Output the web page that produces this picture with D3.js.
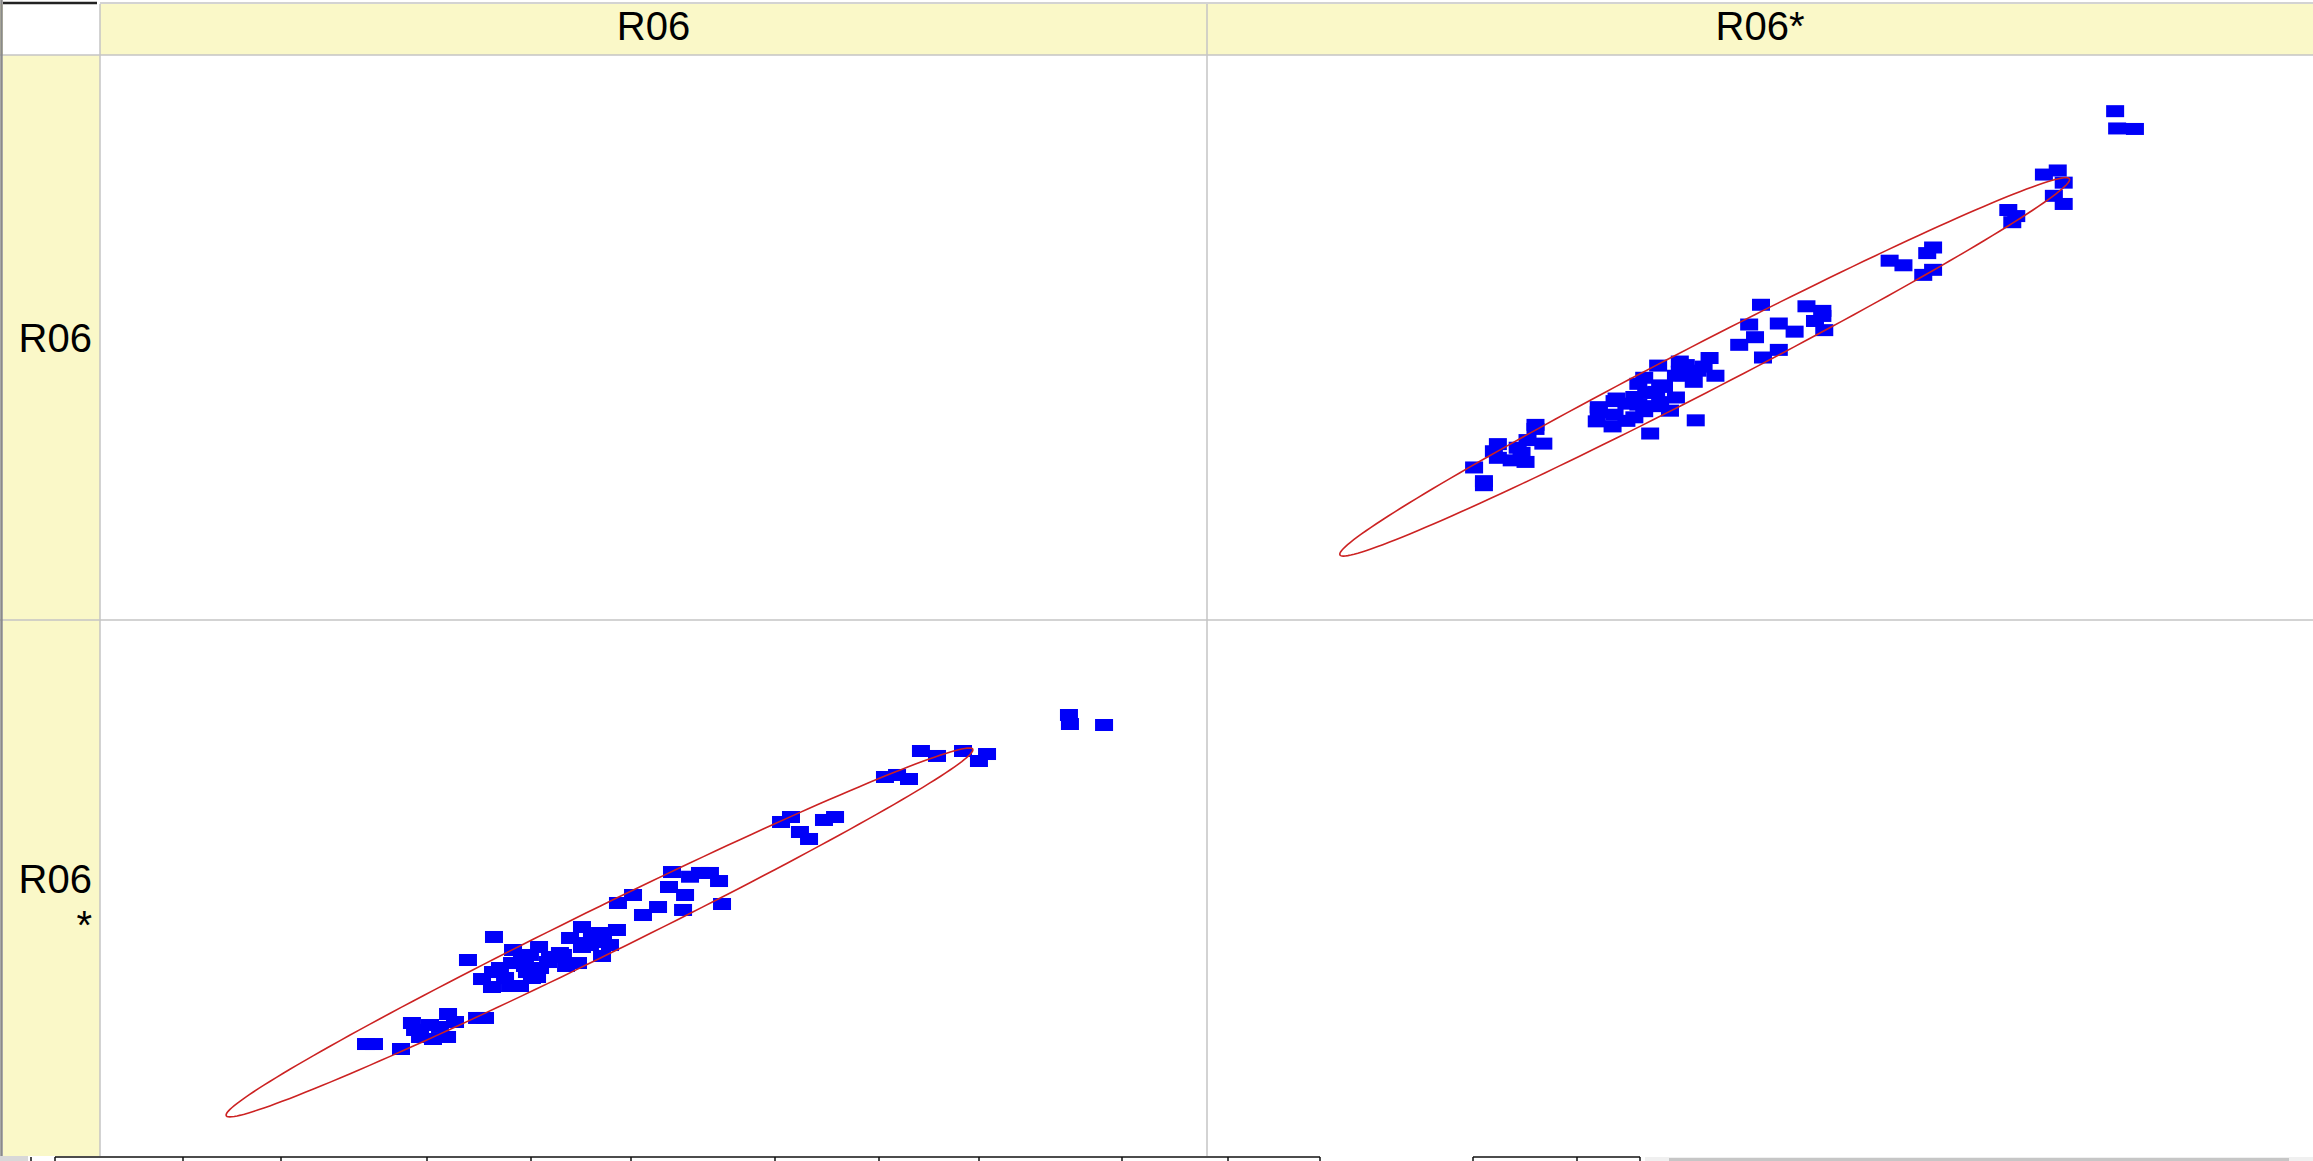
<!DOCTYPE html>
<html><head><meta charset="utf-8">
<script src="https://cdn.jsdelivr.net/npm/d3@7"></script>
<style>html,body{margin:0;padding:0;background:#fff;overflow:hidden}</style>
</head><body>
<svg id="chart" width="2313" height="1161"></svg>
<script>
// ---------------- data ----------------
const variables = ["R06", "R06*"];

const r06 = [24.03,24.75,27.19,31.44,28.18,29.81,28.91,31.35,30.08,34.06,34.78,28.46,30.71,32.07,
  35.59,33.24,37.31,39.66,34.51,35.41,36.13,37.22,37.94,37.04,39.02,39.75,41.55,43.18,43.54,43.54,45.17,46.70,45.35,38.12,38.57,35.50,40.65,39.48,41.82,43.63,45.44,
  36.59,38.39,40.47,42.10,44.26,42.46,38.84,46.07,44.44,
  51.67,54.20,55.10,55.92,51.40,52.85,48.15,46.79,49.05,52.67,50.41,56.19,53.30,
  61.52,62.42,63.23,64.05,65.40,66.40,70.91,72.00,73.08,74.16,75.61,77.96,80.13,79.40,87.53,87.62,90.70];

const r06s = [25.04,25.04,24.15,30.41,28.80,28.44,26.30,26.30,25.94,29.70,29.70,27.55,28.09,28.98,
  44.19,40.07,41.86,42.40,36.67,35.24,38.64,39.53,35.42,35.42,36.85,38.64,41.32,39.53,42.40,45.97,44.90,45.44,40.79,40.43,37.92,37.92,40.61,37.03,40.97,43.11,43.29,
  36.85,39.00,39.71,39.00,42.75,44.01,40.97,42.75,44.36,
  55.81,55.64,55.64,54.20,53.13,51.70,51.70,50.27,48.12,49.02,49.55,50.09,54.97,
  64.76,65.65,62.97,61.72,65.12,65.65,72.81,73.17,72.45,77.46,76.57,77.46,76.92,75.67,83.90,82.29,82.11];

const domainR06 = [0, 100];
const domainR06s = [0, 100];

// confidence ellipse statistics (R06, R06*)
const ellipseMean = [45.12, 45.0];
const ellipseSD = [13.78, 13.48];
const ellipseCorr = 0.99;
const ellipseLevel = 0.95;

// ---------------- layout ----------------
const W = 2313, H = 1161;
const headerTop = 4, headerBottom = 55, labelColRight = 100;
const colEdges = [100, 1207, 2313];
const rowEdges = [55, 620, 1184];
const stripY = 1156;
const yellow = "#faf8c8";
const gridGray = "#c4c4c4";
const font = "'Liberation Sans', Arial, sans-serif";
const fontSize = 40;

const svg = d3.select("#chart");
svg.append("rect").attr("width", W).attr("height", H).attr("fill", "#fff");

const data = r06.map((v, i) => ({ R06: v, "R06*": r06s[i] }));
const domains = { "R06": domainR06, "R06*": domainR06s };

// scales per column (x) and per row (y)
const xScales = [
  d3.scaleLinear().domain(domains[variables[0]]).range([colEdges[0], colEdges[1]]),
  d3.scaleLinear().domain(domains[variables[1]]).range([colEdges[1], colEdges[2]])
];
const yScales = [
  d3.scaleLinear().domain(domains[variables[0]]).range([rowEdges[1], rowEdges[0] + 4]),
  d3.scaleLinear().domain(domains[variables[1]]).range([rowEdges[2], rowEdges[1] + 5])
];

// header & label column backgrounds
svg.append("rect").attr("x", 0).attr("y", headerTop).attr("width", W).attr("height", headerBottom - headerTop).attr("fill", yellow);
svg.append("rect").attr("x", 3).attr("y", headerBottom).attr("width", labelColRight - 3).attr("height", stripY - headerBottom).attr("fill", yellow);
svg.append("rect").attr("x", 3).attr("y", headerTop).attr("width", labelColRight - 3).attr("height", headerBottom - headerTop).attr("fill", "#fff");

// grid lines
const grid = svg.append("g").attr("stroke", gridGray).attr("stroke-width", 1.5).attr("fill", "none");
grid.append("line").attr("x1", labelColRight).attr("x2", W).attr("y1", 3).attr("y2", 3);
grid.append("line").attr("x1", 0).attr("x2", W).attr("y1", headerBottom).attr("y2", headerBottom);
grid.append("line").attr("x1", 0).attr("x2", W).attr("y1", rowEdges[1]).attr("y2", rowEdges[1]);
grid.append("line").attr("x1", labelColRight).attr("x2", labelColRight).attr("y1", headerTop).attr("y2", stripY);
grid.append("line").attr("x1", colEdges[1]).attr("x2", colEdges[1]).attr("y1", headerTop).attr("y2", stripY);
svg.append("line").attr("x1", 3).attr("x2", 97).attr("y1", 3).attr("y2", 3).attr("stroke", "#222").attr("stroke-width", 2.5);
svg.append("line").attr("x1", 1.5).attr("x2", 1.5).attr("y1", 0).attr("y2", H).attr("stroke", "#8a8a8a").attr("stroke-width", 2.5);

// column headers
variables.forEach((v, j) => {
  svg.append("text")
    .attr("x", (colEdges[j] + colEdges[j + 1]) / 2)
    .attr("y", 40)
    .attr("text-anchor", "middle")
    .attr("font-family", font).attr("font-size", fontSize).attr("fill", "#000")
    .text(v);
});

// row labels (wrapped if too wide)
const maxLabelW = 80;
variables.forEach((v, i) => {
  const t = svg.append("text").attr("font-family", font).attr("font-size", fontSize).attr("text-anchor", "end").attr("fill", "#000");
  const lines = [];
  let cur = "";
  const probe = svg.append("text").attr("font-family", font).attr("font-size", fontSize);
  for (const ch of v) {
    probe.text(cur + ch);
    if (cur && probe.node().getComputedTextLength() > maxLabelW) { lines.push(cur); cur = ch; }
    else cur += ch;
  }
  lines.push(cur);
  probe.remove();
  const lh = 46;
  const cy = (rowEdges[i] + rowEdges[i + 1]) / 2;
  const base = cy + 0.36 * fontSize - (lines.length - 1) * lh / 2;
  lines.forEach((ln, k) => {
    t.append("tspan").attr("x", 92).attr("y", base + k * lh).text(ln);
  });
});

// clip for plot region
svg.append("clipPath").attr("id", "plotclip").append("rect")
  .attr("x", labelColRight).attr("y", headerBottom).attr("width", W - labelColRight).attr("height", stripY - headerBottom);
const plot = svg.append("g").attr("clip-path", "url(#plotclip)");

// confidence ellipse points (in data units)
const k = Math.sqrt(-2 * Math.log(1 - ellipseLevel));
const ts = d3.range(0, 361, 2).map(d => d * Math.PI / 180);
const ellipse = ts.map(t => ({
  R06: ellipseMean[0] + k * ellipseSD[0] * Math.cos(t),
  "R06*": ellipseMean[1] + k * ellipseSD[1] * (ellipseCorr * Math.cos(t) + Math.sqrt(1 - ellipseCorr * ellipseCorr) * Math.sin(t))
}));

const mw = 18, mh = 12;
variables.forEach((rowVar, i) => {
  variables.forEach((colVar, j) => {
    if (i === j) return;
    const xs = xScales[j], ys = yScales[i];
    const cell = plot.append("g");
    cell.selectAll("rect.pt").data(data).join("rect")
      .attr("class", "pt")
      .attr("x", d => xs(d[colVar]) - mw / 2)
      .attr("y", d => ys(d[rowVar]) - mh / 2)
      .attr("width", mw).attr("height", mh)
      .attr("fill", "#0000f8");
    const line = d3.line().x(d => xs(d[colVar])).y(d => ys(d[rowVar])).curve(d3.curveLinearClosed);
    cell.append("path").attr("d", line(ellipse))
      .attr("fill", "none").attr("stroke", "#cc2222").attr("stroke-width", 1.6);
  });
});

// bottom sheet-tab strip
svg.append("rect").attr("x", 0).attr("y", stripY).attr("width", W).attr("height", H - stripY).attr("fill", "#fff");
svg.append("rect").attr("x", 1645).attr("y", stripY + 1).attr("width", W - 1645).attr("height", H - stripY).attr("fill", "#f0f0f0");
svg.append("rect").attr("x", 1669).attr("y", stripY + 2).attr("width", 620).attr("height", H - stripY).attr("fill", "#c6c6c6");
const tabs = svg.append("g").attr("stroke", "#111").attr("stroke-width", 1.5);
tabs.append("line").attr("x1", 55).attr("x2", 1320).attr("y1", stripY + 1).attr("y2", stripY + 1);
tabs.append("line").attr("x1", 1473).attr("x2", 1640).attr("y1", stripY + 1).attr("y2", stripY + 1);
[31, 55, 183, 281, 427, 531, 631, 775, 879, 979, 1122, 1228, 1320, 1473, 1577, 1640].forEach(x => {
  tabs.append("line").attr("x1", x).attr("x2", x).attr("y1", stripY + 1).attr("y2", H);
});
svg.append("rect").attr("x", 0).attr("y", stripY).attr("width", 28).attr("height", H - stripY).attr("fill", "#d8d8d8");
</script>
</body></html>
